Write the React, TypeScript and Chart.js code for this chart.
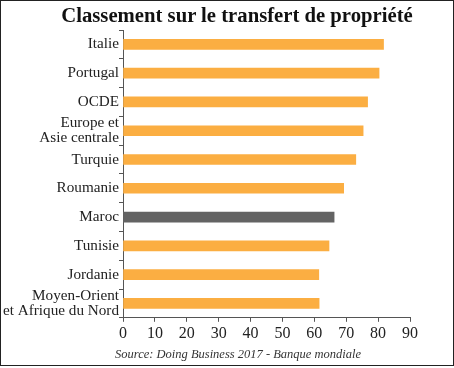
import React, { useEffect, useRef } from "react";
import { Chart, registerables } from "chart.js";

Chart.register(...registerables);

const categories: (string | string[])[] = [
  "Italie",
  "Portugal",
  "OCDE",
  ["Europe et", "Asie centrale"],
  "Turquie",
  "Roumanie",
  "Maroc",
  "Tunisie",
  "Jordanie",
  ["Moyen-Orient", "et Afrique du Nord"],
];
const values = [81.7, 80.3, 76.7, 75.3, 73.0, 69.2, 66.2, 64.6, 61.4, 61.5];
const highlight = "Maroc";
const xTicks = [0, 10, 20, 30, 40, 50, 60, 70, 80, 90];
const titleText = "Classement sur le transfert de propriété";
const sourceText = "Source: Doing Business 2017 - Banque mondiale";

const ORANGE = "#FBAE42";
const GRAY = "#636363";

export default function App() {
  const ref = useRef<HTMLCanvasElement>(null);
  useEffect(() => {
    document.body.style.margin = "0";
    const ctx = ref.current!;
    const colors = categories.map((c) => (c === highlight ? GRAY : ORANGE));
    const chart = new Chart(ctx, {
      type: "bar",
      data: {
        labels: categories as any,
        datasets: [
          {
            data: values,
            backgroundColor: colors,
            borderWidth: 0,
            barThickness: 10,
          },
        ],
      },
      options: {
        indexAxis: "y",
        animation: false,
        responsive: false,
        maintainAspectRatio: false,
        layout: { padding: { left: 0, right: 43, top: 29, bottom: 20 } },
        plugins: {
          legend: { display: false },
          tooltip: { enabled: false },
        },
        scales: {
          x: {
            type: "linear",
            min: 0,
            max: 90,
            afterBuildTicks: (scale: any) => {
              scale.ticks = xTicks.map((v) => ({ value: v }));
            },
            grid: {
              drawOnChartArea: false,
              drawTicks: true,
              tickLength: 4,
              color: "#555",
            },
            border: { display: true, color: "#555", width: 1 },
            ticks: {
              color: "#222",
              padding: 2,
              maxRotation: 0,
              font: { family: "Liberation Serif", size: 16 },
            },
          },
          y: {
            afterFit: (scale: any) => {
              scale.width = 122;
            },
            grid: {
              offset: true,
              drawOnChartArea: false,
              drawTicks: true,
              tickLength: 4,
              color: "#555",
            },
            border: { display: true, color: "#555", width: 1 },
            ticks: {
              autoSkip: false,
              color: "#222",
              padding: 0,
              font: { family: "Liberation Serif", size: 15.2, lineHeight: 0.97 },
            },
          },
        },
      },
    });
    return () => chart.destroy();
  }, []);
  return (
    <div
      style={{
        position: "absolute",
        left: 0,
        top: 0,
        width: 454,
        height: 366,
        boxSizing: "border-box",
        border: "1px solid #222",
        background: "#fff",
      }}
    >
      <canvas ref={ref} width={452} height={364} style={{ display: "block" }} />
      <div
        style={{
          position: "absolute",
          left: 0,
          top: 2,
          width: 472,
          textAlign: "center",
          fontFamily: "Liberation Serif",
          fontWeight: "bold",
          fontSize: 20.7,
          lineHeight: "24px",
          color: "#111",
          whiteSpace: "nowrap",
        }}
      >
        {titleText}
      </div>
      <div
        style={{
          position: "absolute",
          left: 0,
          top: 345,
          width: 474,
          textAlign: "center",
          fontFamily: "Liberation Serif",
          fontStyle: "italic",
          fontSize: 12.5,
          lineHeight: "16px",
          color: "#333",
          whiteSpace: "nowrap",
        }}
      >
        {sourceText}
      </div>
    </div>
  );
}
